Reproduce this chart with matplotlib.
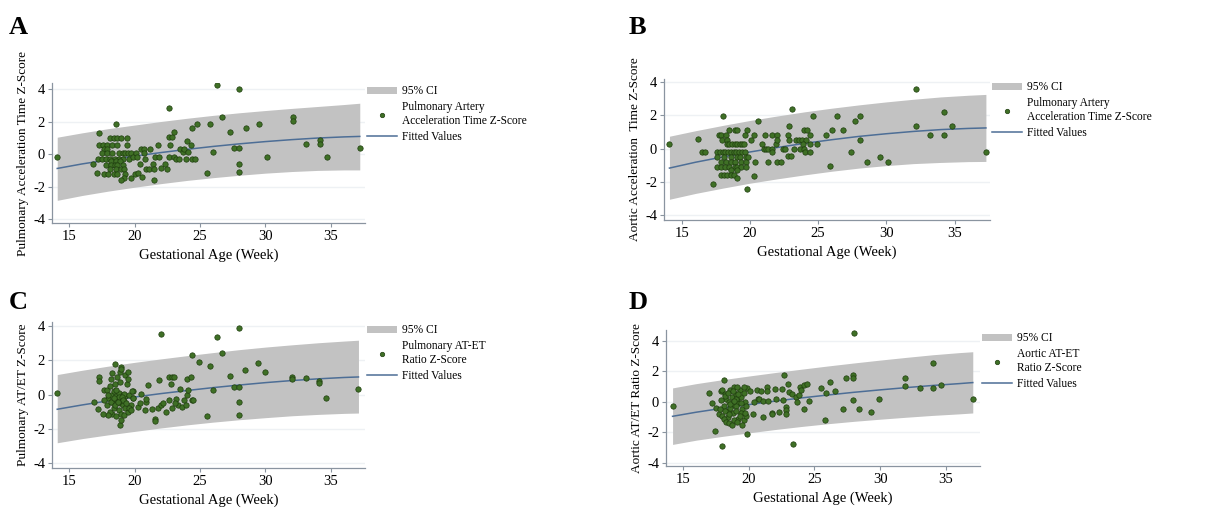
import numpy as np
import matplotlib
matplotlib.use("Agg")
from matplotlib import pyplot as plt
from matplotlib.patches import Patch
from matplotlib.lines import Line2D

plt.rcParams['font.family'] = ['Liberation Serif', 'DejaVu Serif']
plt.rcParams['axes.unicode_minus'] = False

# ---------------- data ----------------
# fitted curve + 95% CI band (week, value)
a_fit_x = [14.1, 16, 18, 20, 22, 24, 26, 28, 30, 32, 34, 36, 37.2]
a_fit = [-0.88, -0.6, -0.35, -0.12, 0.1, 0.3, 0.48, 0.64, 0.78, 0.9, 1.0, 1.07, 1.1]
a_hi = [1.05, 1.32, 1.58, 1.8, 2.02, 2.22, 2.4, 2.56, 2.7, 2.83, 2.95, 3.07, 3.15]
a_lo = [-2.85, -2.55, -2.28, -2.04, -1.82, -1.62, -1.45, -1.3, -1.17, -1.07, -1.0, -0.97, -0.97]

b_fit_x = [14.1, 16, 18, 20, 22, 24, 26, 28, 30, 32, 34, 36, 37.3]
b_fit = [-1.17, -0.82, -0.5, -0.2, 0.07, 0.32, 0.54, 0.74, 0.9, 1.04, 1.15, 1.22, 1.25]
b_hi = [0.75, 1.08, 1.4, 1.7, 1.97, 2.22, 2.44, 2.64, 2.82, 2.98, 3.12, 3.22, 3.27]
b_lo = [-3.05, -2.7, -2.38, -2.08, -1.82, -1.58, -1.36, -1.17, -1.02, -0.9, -0.83, -0.78, -0.77]

c_fit_x = [14.1, 16, 18, 20, 22, 24, 26, 28, 30, 32, 34, 36, 37.1]
c_fit = [-0.85, -0.6, -0.36, -0.14, 0.06, 0.24, 0.41, 0.56, 0.7, 0.82, 0.92, 1.0, 1.03]
c_hi = [1.17, 1.42, 1.66, 1.88, 2.08, 2.27, 2.45, 2.62, 2.77, 2.9, 3.02, 3.12, 3.17]
c_lo = [-2.8, -2.56, -2.34, -2.14, -1.94, -1.76, -1.6, -1.46, -1.34, -1.23, -1.15, -1.09, -1.07]

d_fit_x = [14.2, 16, 18, 20, 22, 24, 26, 28, 30, 32, 34, 36, 37.05]
d_fit = [-0.95, -0.68, -0.42, -0.18, 0.05, 0.26, 0.45, 0.63, 0.79, 0.94, 1.08, 1.2, 1.27]
d_hi = [0.92, 1.2, 1.46, 1.7, 1.93, 2.15, 2.36, 2.56, 2.75, 2.93, 3.1, 3.24, 3.3]
d_lo = [-2.8, -2.52, -2.27, -2.04, -1.82, -1.62, -1.44, -1.28, -1.14, -1.01, -0.89, -0.79, -0.73]

# scatter points
a_week = [14.1, 16.8, 17.1, 17.3, 17.3, 18.6,
          18.1, 18.4, 18.7, 19.0, 19.4,
          17.6, 17.9, 18.3, 18.7, 19.4, 17.7, 17.9,
          17.5, 17.9, 18.3, 18.8, 19.1, 19.3, 19.5, 19.7,
          17.2, 17.5, 17.8, 18.1, 18.5, 18.8, 19.1, 19.6,
          18.2, 18.6, 18.9,
          17.8, 18.2, 18.5, 18.7, 19.1,
          18.1, 18.6, 19.0, 19.2,
          17.7, 18.0, 18.4, 18.7, 19.3, 20.0,
          19.2, 19.7, 19.0,
          19.9, 20.1, 20.2, 20.4, 20.5, 20.7, 20.7, 20.8, 20.3, 20.6, 20.9, 21.1,
          21.2, 21.4, 21.5, 21.6, 21.5, 21.8, 21.9, 22.0, 22.3, 22.5, 22.6, 22.7,
          22.6, 22.9, 23.05, 22.6, 23.0, 23.2, 23.4, 23.5, 23.7, 23.8, 23.9, 24.0,
          24.1, 24.3, 24.4, 24.6, 24.4, 24.8,
          25.5, 25.8, 26.0, 26.3, 26.7, 27.3, 27.6, 28.0, 28.0, 28.0, 28.0, 28.5,
          29.5, 30.1, 32.1, 32.1, 33.1, 34.2, 34.2, 34.7, 37.2]
a_z = [-0.2, -0.6, -1.15, 1.3, 0.6, 1.85,
       1.0, 1.0, 1.0, 1.0, 1.0,
       0.6, 0.6, 0.6, 0.6, 0.6, 0.35, 0.35,
       0.1, 0.1, 0.1, 0.1, 0.1, 0.1, 0.1, 0.1,
       -0.3, -0.3, -0.3, -0.3, -0.3, -0.3, -0.3, -0.3,
       -0.45, -0.45, -0.45,
       -0.65, -0.65, -0.65, -0.65, -0.65,
       -0.9, -0.9, -0.9, -0.9,
       -1.2, -1.2, -1.2, -1.2, -1.2, -1.2,
       -1.45, -1.45, -1.6,
       -0.2, 0.1, -0.2, -0.6, 0.35, 0.35, 0.1, -0.3, -1.15, -1.4, -0.9, -0.9,
       0.35, -0.6, -1.6, -0.2, -0.9, 0.6, -0.2, -0.85, -0.6, -0.9, -0.15, 0.6,
       1.05, 1.05, 1.35, 2.85, -0.2, -0.3, -0.3, 0.35, 0.15, 0.35, -0.3, 0.8,
       0.15, 0.6, -0.3, -0.3, 1.6, 1.85,
       -1.15, 1.85, 0.15, 4.25, 2.3, 1.35, 0.4, 4.05, 0.4, -0.6, -1.1, 1.6,
       1.85, -0.15, 2.3, 2.05, 0.65, 0.85, 0.65, -0.15, 0.4]

b_week = [14.1, 16.2, 16.5, 16.7, 17.3, 18.05,
          18.5, 18.9, 19.05, 19.8,
          17.7, 17.9, 18.25, 19.65, 17.95, 18.35,
          18.3, 18.5, 18.7, 18.9, 19.05, 19.25, 19.4, 19.6,
          17.6, 17.8, 18.0, 18.2, 18.4, 18.6, 18.8, 19.0, 19.2, 19.4, 19.65,
          17.55, 18.1, 18.6, 19.05, 19.3, 19.7,
          17.9, 18.25, 18.6, 18.9, 19.35, 19.7,
          17.6, 17.85, 18.2, 18.5, 18.9, 19.05, 19.35, 19.7,
          18.6, 19.05,
          17.85, 18.1, 18.35, 18.6, 18.85, 19.05, 19.8, 19.85,
          20.1, 20.3, 20.6, 20.3, 20.4, 20.9, 21.1, 21.0, 21.15, 21.3, 21.3, 21.6,
          21.6, 21.6, 21.9, 22.0, 22.0, 22.0, 22.3, 22.4, 22.6, 22.8, 22.85, 22.85,
          22.8, 23.0, 23.1, 23.2, 23.4, 23.6, 23.8, 24.1, 23.7, 23.9, 24.0, 24.05,
          24.0, 24.2, 24.4, 24.4, 24.9, 24.4, 24.6,
          25.6, 25.9, 26.0, 26.4, 26.8, 27.4, 27.7, 28.1, 28.1, 28.6, 29.5, 30.1,
          32.2, 32.2, 33.2, 34.2, 34.2, 34.8, 37.3]
b_z = [0.3, 0.6, -0.2, -0.2, -2.15, 1.95,
       1.15, 1.15, 1.15, 1.15,
       0.85, 0.85, 0.85, 0.85, 0.55, 0.55,
       0.3, 0.3, 0.3, 0.3, 0.3, 0.3, 0.3, 0.3,
       -0.2, -0.2, -0.2, -0.2, -0.2, -0.2, -0.2, -0.2, -0.2, -0.2, -0.2,
       -0.5, -0.5, -0.5, -0.5, -0.5, -0.5,
       -0.8, -0.8, -0.8, -0.8, -0.8, -0.8,
       -1.1, -1.1, -1.1, -1.1, -1.1, -1.1, -1.1, -1.1,
       -1.3, -1.3,
       -1.6, -1.6, -1.6, -1.6, -1.6, -1.75, -2.45, -0.5,
       0.55, 0.85, 1.65, -1.65, -0.8, 0.3, 0.85, 0.0, 0.0, 0.0, -0.8, 0.0,
       0.85, -0.2, 0.3, 0.85, 0.55, -0.8, -0.8, 0.0, 0.0, 0.85, 1.35, 0.55,
       -0.45, -0.45, 2.4, 0.0, 0.55, 0.55, 0.55, 0.55, 0.0, 0.3, 0.0, -0.2,
       1.15, 1.15, 0.85, 0.3, 0.3, -0.2, 1.95,
       0.85, -1.05, 1.15, 1.95, 1.15, -0.2, 1.65, 1.95, 0.55, -0.8, -0.5, -0.8,
       3.6, 1.35, 0.85, 2.2, 0.85, 1.35, -0.2]

c_week = [14.1, 16.9, 17.3, 17.3, 17.2, 18.5, 18.9, 19.0, 19.0, 19.3, 19.5, 18.7,
          18.9, 19.0,
          17.7, 17.9, 18.0, 18.1, 18.2, 18.3, 18.4, 18.5, 18.6, 18.7, 18.8, 18.9,
          19.0, 19.1, 19.2, 19.3, 19.0, 18.9, 19.1, 19.2, 18.8, 18.6, 18.3, 18.1,
          18.0, 18.4, 18.6, 18.8, 19.0, 19.2, 19.3, 19.5, 19.7, 19.9, 19.9, 19.6,
          17.9, 17.7, 18.0, 18.2, 18.5, 19.4, 19.5, 18.3, 19.05, 19.15, 18.45, 18.75,
          19.35, 19.55, 17.6, 18.2, 18.9, 19.7,
          19.8, 19.9, 20.3, 20.4, 20.5, 20.8, 20.9, 20.85, 21.0, 21.3, 21.6, 21.6,
          21.8, 21.9, 22.0, 22.2, 22.4, 22.6, 22.6, 22.8, 22.9, 23.0, 23.2, 23.3,
          22.9, 23.5, 23.6, 23.8, 23.9, 24.0, 24.0, 24.1, 24.3, 24.4, 24.5, 23.1,
          22.0, 24.4, 24.9,
          25.5, 25.8, 26.0, 26.3, 26.7, 27.3, 27.6, 28.0, 28.0, 28.0, 28.0, 28.4,
          29.4, 30.0, 32.0, 32.0, 33.1, 34.1, 34.1, 34.6, 37.1]
c_z = [0.1, -0.4, 1.0, 0.8, -0.85, 1.8, 1.3, 1.6, 1.5, 1.15, 1.3, 1.0,
       -1.75, -1.5,
       0.25, 0.3, -0.2, 0.5, 0.0, -0.4, 0.2, 0.6, -0.1, -0.3, 0.1, -0.5,
       -0.2, 0.0, -0.35, -0.1, -0.4, -0.25, -0.6, 0.05, -0.15, 0.3, -1.1, -1.0,
       -1.2, -0.8, -1.25, -0.9, -1.1, -1.2, -0.8, -1.0, -0.6, -0.2, 0.2, 0.0,
       -0.6, -0.3, 0.0, -0.45, -0.6, 0.6, 0.9, 1.25, -0.15, -0.3, -0.2, -0.45,
       -0.5, -0.75, -1.15, 0.9, 0.75, -0.9,
       0.2, -0.2, -0.7, -0.5, 0.05, -0.9, -0.45, -0.25, 0.55, -0.85, -1.4, -1.55,
       -0.8, 0.85, -0.6, -0.5, -1.0, -0.3, 1.0, 0.6, 1.05, 1.05, -0.25, -0.6,
       -0.8, 0.35, -0.7, -0.3, -0.6, 0.0, 0.9, 0.3, 1.05, -0.3, -0.3, -0.5,
       3.55, 2.3, 1.9,
       -1.25, 1.67, 0.3, 3.37, 2.43, 1.07, 0.43, 3.9, 0.43, -0.43, -1.2, 1.42,
       1.85, 1.33, 1.03, 0.9, 0.97, 0.8, 0.68, -0.2, 0.35]

d_week = [14.2, 16.95, 17.4, 17.95, 18.1, 19.85, 23.4, 22.7, 28.0,
          17.2, 17.5, 17.7, 17.9, 18.0, 18.1, 18.2, 18.3, 18.4, 18.5, 18.6, 18.7,
          18.8, 18.9, 19.0, 19.1, 19.2, 19.3, 19.4, 19.5, 19.6, 19.7, 19.8, 19.9,
          17.8, 18.0, 18.2, 18.4, 18.6, 18.8, 19.0, 19.2, 19.4, 19.6, 19.8,
          18.1, 18.3, 18.5, 18.7, 18.9, 19.1, 19.3, 19.5, 19.7, 18.2, 18.6,
          19.0, 19.4, 18.4, 18.8, 19.2, 19.6, 17.9, 18.5, 19.1, 19.0, 18.9,
          20.1, 20.6, 20.7, 20.8, 20.95, 21.1, 21.1, 21.4, 21.4, 21.5, 21.75, 21.75,
          21.96, 22.1, 22.3, 22.5, 22.6, 22.8, 22.8, 22.8, 22.95, 23.1, 23.3, 23.6,
          23.7, 23.8, 23.9, 23.95, 24.2, 24.2, 24.4, 24.6, 20.3, 20.4,
          25.5, 25.8, 25.9, 26.2, 26.6, 27.2, 27.4, 27.9, 27.9, 27.9, 28.4, 29.3,
          29.9, 31.9, 31.9, 33.0, 34.0, 34.0, 34.6, 37.05]
d_z = [-0.3, 0.6, -1.9, -2.9, 1.47, -2.1, -2.75, 1.8, 4.55,
       -0.1, -0.4, -0.8, 0.7, 0.8, -0.3, 0.5, 0.2, -0.6, 0.0, 0.8, 0.3,
       -0.2, 1.0, 0.5, 0.1, -0.1, 0.8, 0.3, -0.5, 0.6, 0.0, -0.3, 0.9,
       -0.5, -0.9, -0.6, -1.0, -0.4, -0.7, -0.3, -1.1, -0.7, -1.2, -0.9,
       -1.1, -1.3, -1.4, -1.55, -1.2, -1.3, -0.9, -1.5, -0.7, 0.4, -0.15,
       0.2, -0.1, 0.6, 0.7, 0.55, 1.0, 0.1, -0.8, 0.95, -0.6, 0.05,
       0.72, 0.77, 0.18, 0.18, 0.72, 0.07, -1.0, 1.0, 0.72, 0.07, -0.7, -0.83,
       0.88, 0.2, -0.66, 0.88, 0.1, -0.33, -0.55, -0.77, 1.2, 0.66, 0.55, 0.33,
       0.0, 0.44, 1.0, 0.77, -0.44, 1.1, 1.2, 0.07, -0.8, 0.0,
       0.92, -1.17, 0.6, 1.3, 0.72, -0.5, 1.58, 1.8, 1.58, 0.15, -0.5, -0.65,
       0.18, 1.58, 1.03, 0.92, 2.57, 0.92, 1.14, 0.18]

ylabels = ['Pulmonary Acceleration Time Z-Score',
           'Aortic Acceleration  Time Z-Score',
           'Pulmonary AT/ET Z-Score',
           'Aortic AT/ET Ratio Z-Score']
dot_labels = ['Pulmonary Artery\nAcceleration Time Z-Score',
              'Pulmonary Artery\nAcceleration Time Z-Score',
              'Pulmonary AT-ET\nRatio Z-Score',
              'Aortic AT-ET\nRatio Z-Score']
letters = ['A', 'B', 'C', 'D']

# ---------------- layout ----------------
W, H = 1224, 511
# left, right, top, bottom in pixels
boxes = [(52, 365, 83, 223), (664, 990, 79, 220), (52, 365, 322, 468), (666, 980, 330, 466)]
ylims = [(-4.25, 4.4), (-4.3, 4.2), (-4.27, 4.23), (-4.22, 4.73)]
letter_pos = [(9, 34), (629, 34), (9, 309), (629, 309)]

panels = [(a_fit_x, a_fit, a_hi, a_lo, a_week, a_z),
          (b_fit_x, b_fit, b_hi, b_lo, b_week, b_z),
          (c_fit_x, c_fit, c_hi, c_lo, c_week, c_z),
          (d_fit_x, d_fit, d_hi, d_lo, d_week, d_z)]

band_col = '#c2c2c2'
line_col = '#4d6e96'
dot_face = '#3f7026'
dot_edge = '#1e3d0e'
spine_col = '#8a94a0'

fig = plt.figure(figsize=(W / 100, H / 100), dpi=100)

for i, (fx, fy, hi, lo, wk, zz) in enumerate(panels):
    l, r, t, b = boxes[i]
    ax = fig.add_axes([l / W, 1 - b / H, (r - l) / W, (b - t) / H])
    for yv in [-4, -2, 0, 2, 4]:
        ax.axhline(yv, color='#eef1f4', lw=1.0, zorder=0)
    ax.fill_between(fx, lo, hi, color=band_col, lw=0, zorder=1)
    ax.plot(fx, fy, color=line_col, lw=1.1, zorder=2)
    ax.scatter(wk, zz, s=15, facecolor=dot_face, edgecolor=dot_edge, linewidth=0.5, zorder=3)

    ax.set_xlim(13.7, 37.6)
    ax.set_ylim(*ylims[i])
    ax.set_xticks([15, 20, 25, 30, 35])
    ax.set_yticks([-4, -2, 0, 2, 4])
    ax.tick_params(labelsize=10.5, length=3, width=0.8, color=spine_col, pad=2)
    for s in ['top', 'right']:
        ax.spines[s].set_visible(False)
    for s in ['left', 'bottom']:
        ax.spines[s].set_color(spine_col)
        ax.spines[s].set_linewidth(0.9)
    ax.set_xlabel('Gestational Age (Week)', fontsize=10.5, labelpad=4)
    ax.set_ylabel(ylabels[i], fontsize=9.5, labelpad=3)

    handles = [Patch(facecolor=band_col, edgecolor='none'),
               Line2D([], [], ls='none', marker='o', ms=3.2, mfc=dot_face, mec=dot_edge, mew=0.5),
               Line2D([], [], color=line_col, lw=1.1)]
    ax.legend(handles, ['95% CI', dot_labels[i], 'Fitted Values'], loc='upper left',
              bbox_to_anchor=(1.0, 1.0), frameon=False, fontsize=8.3,
              handlelength=2.6, handleheight=0.6, handletextpad=0.4,
              labelspacing=0.35, borderaxespad=0.2, borderpad=0.0)

    lx, ly = letter_pos[i]
    fig.text(lx / W, 1 - ly / H, letters[i], fontsize=19, fontweight='bold', va='baseline', ha='left')

fig.savefig('out.png', dpi=100)
